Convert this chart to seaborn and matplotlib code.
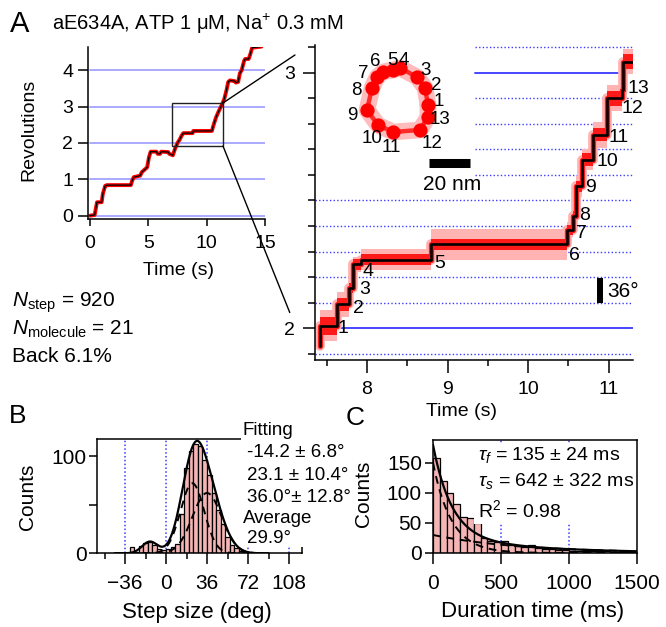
import numpy as np
import pandas as pd
import matplotlib
matplotlib.use("Agg")
import matplotlib.pyplot as plt
from matplotlib.patches import Rectangle, ConnectionPatch
from matplotlib.ticker import MultipleLocator, FixedLocator
from matplotlib.transforms import offset_copy
import seaborn as sns

# ---------------- data ----------------
# Panel A, overview trace (time s, revolutions)
overview_time = [0.0, 0.4, 0.5, 0.6, 1.0, 1.1, 1.3, 1.45, 3.5, 3.6, 3.75, 4.3, 4.45, 4.9, 5.05, 5.2,
                 5.7, 5.8, 6.0, 6.1, 6.7, 6.8, 7.1, 7.3, 7.5, 7.7, 7.85, 8.0, 8.8, 8.85, 10.45,
                 10.55, 10.8, 11.0, 11.3, 11.5, 11.7, 11.85, 12.0, 12.4, 12.5, 12.7, 12.85, 13.0,
                 13.2, 13.3, 13.6, 13.75, 13.9, 14.7]
overview_rev = [0.0, 0.02, 0.2, 0.37, 0.37, 0.6, 0.82, 0.84, 0.84, 0.95, 1.06, 1.1, 1.2, 1.33, 1.6, 1.76,
                1.76, 1.7, 1.7, 1.76, 1.75, 1.7, 1.66, 1.85, 2.0, 2.1, 2.2, 2.27, 2.27, 2.33, 2.33,
                2.45, 2.7, 2.85, 3.05, 3.2, 3.45, 3.68, 3.72, 3.7, 3.66, 3.68, 3.92, 4.0,
                4.25, 4.31, 4.31, 4.45, 4.62, 4.65]

# Panel A, zoomed step trace (start time of each level, level in revolutions)
zoom_step_time = [7.41, 7.415, 7.624, 7.78, 7.83, 7.925, 8.80, 10.49, 10.563, 10.596, 10.667,
                  10.81, 10.98, 11.164, 11.184, 11.30]
zoom_step_rev = [1.93, 2.01, 2.094, 2.159, 2.25, 2.269, 2.328, 2.386, 2.44, 2.555, 2.66,
                 2.757, 2.90, 2.933, 3.043, 3.043]
zoom_pink_halfwidth = [0.03, 0.06, 0.05, 0.04, 0.03, 0.04, 0.06, 0.03, 0.03, 0.04, 0.04,
                       0.05, 0.05, 0.05, 0.05, 0.05]
zoom_red_halfwidth = [0.015, 0.035, 0.025, 0.02, 0.02, 0.02, 0.022, 0.02, 0.02, 0.02, 0.025,
                      0.025, 0.03, 0.03, 0.03, 0.03]

step_labels = [str(i) for i in range(1, 14)]
step_label_time = [7.706, 7.89, 7.975, 8.016, 8.907, 10.58, 10.667, 10.708, 10.77, 10.98, 11.12, 11.29, 11.37]
step_label_rev = [2.007, 2.085, 2.159, 2.23, 2.263, 2.295, 2.38, 2.451, 2.558, 2.66, 2.757, 2.87, 2.946]

# Inset xy trajectory: dwell positions (nm) and their number labels
traj_x_nm = [14.6, 13.2, 9.3, 1.0, -2.4, -7.3, -10.2, -12.7, -15.1, -9.8, -2.4, 10.7, 14.6]
traj_y_nm = [-2.4, 5.9, 11.2, 15.6, 14.6, 13.7, 11.2, 5.9, -4.9, -12.2, -15.6, -14.6, -8.3]
traj_label_x_nm = [19.8, 18.5, 13.3, 3.0, -2.6, -11.2, -16.9, -20.1, -22.5, -12.7, -3.1, 16.4, 20.5]
traj_label_y_nm = [0.3, 8.0, 15.5, 20.0, 20.0, 19.5, 13.8, 5.7, -6.5, -17.9, -22.0, -20.0, -8.4]

# Panel B: step-size histogram
step_size_edges = list(range(-32, 73, 4))
step_size_counts = [6, 1, 8, 11, 12, 9, 4, 3, 4, 6, 10, 40, 88, 105, 112, 110, 96, 80, 62, 45,
                    30, 17, 9, 5, 2, 1]
fit_means = [-14.2, 23.1, 36.0]
fit_sds = [6.8, 10.4, 12.8]
fit_amps = [12, 72, 62]

# Panel C: dwell-duration histogram
duration_edges = list(range(0, 1501, 50))
duration_counts = [158, 120, 100, 82, 60, 58, 50, 25, 20, 18, 20, 13, 12, 10, 14, 8, 7, 6, 5, 5,
                   4, 4, 4, 3, 3, 3, 2, 2, 2, 2]
tau_fast, tau_slow = 135.0, 642.0
amp_fast, amp_slow = 150.0, 30.0

# ---------------- style ----------------
sns.set_theme(style="ticks")
plt.rcParams['font.family'] = ['Liberation Sans', 'DejaVu Sans']
plt.rcParams['mathtext.fontset'] = 'custom'
plt.rcParams['mathtext.rm'] = 'Liberation Sans'
plt.rcParams['mathtext.it'] = 'Liberation Sans:italic'
plt.rcParams['mathtext.bf'] = 'Liberation Sans:bold'
plt.rcParams['axes.linewidth'] = 1.1
for k in ['xtick.major.width', 'ytick.major.width', 'xtick.minor.width', 'ytick.minor.width']:
    plt.rcParams[k] = 1.1
plt.rcParams['axes.edgecolor'] = 'black'
plt.rcParams['xtick.color'] = 'black'
plt.rcParams['ytick.color'] = 'black'
plt.rcParams['xtick.labelcolor'] = 'black'
plt.rcParams['ytick.labelcolor'] = 'black'
plt.rcParams['text.color'] = 'black'
plt.rcParams['axes.labelcolor'] = 'black'

W, H = 666, 627
fig = plt.figure(figsize=(W / 100, H / 100), dpi=100)
FS = 15
FS_LAB = 14
FS_BC = 15


def rect(l, t, r, b):
    return [l / W, 1 - b / H, (r - l) / W, (b - t) / H]


def ftext(x, y, s, **kw):
    kw.setdefault('fontsize', FS)
    kw.setdefault('color', 'black')
    return fig.text(x / W, 1 - y / H, s, **kw)


PINK_BAR = '#f5b5b5'
LIGHT_BLUE = '#a3a3ff'
BLUE = '#4646ff'
DOT_BLUE = '#3b3bff'

# ---------------- Panel A left: overview ----------------
ax1 = fig.add_axes(rect(88.3, 46.6, 265, 219.3))
ax1.set_xlim(-0.146, 15.0)
ax1.set_ylim(-0.1, 4.65)
for r in range(5):
    ax1.plot([0, 15], [r, r], color=LIGHT_BLUE, lw=1.3, zorder=1)
ax1.plot(overview_time, overview_rev, color='red', lw=2.8, zorder=2, solid_joinstyle='round')
ax1.plot(overview_time, overview_rev, color='black', lw=0.9, zorder=3)
ax1.add_patch(Rectangle((7.03, 1.915), 4.37, 1.185, fill=False, ec='#222222', lw=1.0, zorder=4))
ax1.set_xticks([0, 5, 10, 15])
ax1.set_yticks([0, 1, 2, 3, 4])
ax1.tick_params(axis='x', direction='out', length=5, pad=6, labelsize=FS_LAB)
ax1.tick_params(axis='y', direction='out', length=7, pad=4, labelsize=FS_LAB)
for s in ['top', 'right']:
    ax1.spines[s].set_visible(False)
ax1.set_facecolor('none')

# ---------------- Panel A right: zoom ----------------
ax2 = fig.add_axes(rect(314.7, 45, 632.7, 359.8))
ax2.set_xlim(7.35, 11.30)
ax2.set_ylim(1.877, 3.108)
full_dotted = [1.9, 2.1, 2.2, 2.3, 2.4, 2.5]
part_dotted = [2.6, 2.7, 2.8, 2.9, 3.1]
for lv in full_dotted:
    ax2.plot([7.35, 11.3], [lv, lv], color=DOT_BLUE, lw=1.0, ls=(0, (1, 1.6)), zorder=1)
for lv in part_dotted:
    ax2.plot([9.34, 11.3], [lv, lv], color=DOT_BLUE, lw=1.0, ls=(0, (1, 1.6)), zorder=1)
ax2.plot([7.35, 11.3], [2.0, 2.0], color=BLUE, lw=1.4, zorder=1)
ax2.plot([9.34, 11.2], [3.0, 3.0], color=BLUE, lw=1.4, zorder=1)

zt = np.array(zoom_step_time)
zr = np.array(zoom_step_rev)
zp = np.array(zoom_pink_halfwidth)
zd = np.array(zoom_red_halfwidth)
ax2.fill_between(zt, zr - zp, zr + zp, step='post', color='#ffb3b3', lw=0, zorder=2)
ax2.step(zt, zr, where='post', color='#ffb3b3', lw=7, zorder=2)
ax2.fill_between(zt, zr - zd, zr + zd, step='post', color='#ff1a1a', lw=0, zorder=3)
ax2.step(zt, zr, where='post', color='#ff1a1a', lw=3.8, zorder=3)
ax2.step(zt, zr, where='post', color='black', lw=1.9, zorder=4)

off = offset_copy(ax2.transData, fig=fig, x=0, y=-6.8, units='dots')
for s, t, r in zip(step_labels, step_label_time, step_label_rev):
    ax2.text(t, r, s, transform=off, ha='center', va='baseline', fontsize=FS_LAB, color='black', zorder=6)

# 36 degree scale bar
ax2.plot([10.89, 10.89], [2.098, 2.198], color='black', lw=4.3, solid_capstyle='butt', zorder=5)
ax2.text(10.98, 2.148, '36°', transform=off, ha='left', va='baseline', fontsize=FS, color='black')

ax2.yaxis.set_major_locator(FixedLocator([2, 3]))
ax2.yaxis.set_minor_locator(MultipleLocator(0.1))
ax2.xaxis.set_major_locator(FixedLocator([8, 9, 10, 11]))
ax2.xaxis.set_minor_locator(FixedLocator([7.5, 8.5, 9.5, 10.5]))
ax2.tick_params(axis='y', which='major', direction='out', length=9, pad=5, labelsize=FS_LAB)
ax2.tick_params(axis='y', which='minor', direction='out', length=5)
ax2.tick_params(axis='x', which='major', direction='out', length=9, pad=6, labelsize=FS_LAB)
ax2.tick_params(axis='x', which='minor', direction='out', length=4)
for s in ['top', 'right']:
    ax2.spines[s].set_visible(False)
ax2.set_facecolor('none')

# Zoom connectors
for xyA, xyB in [((11.4, 3.1), (7.105, 3.069)), ((11.4, 1.915), (7.04, 2.062))]:
    con = ConnectionPatch(xyA=xyA, coordsA=ax1.transData, xyB=xyB, coordsB=ax2.transData,
                          color='black', lw=1.0)
    fig.add_artist(con)

# Inset: xy trajectory
axi = fig.add_axes(rect(340, 45, 480, 195))
axi.set_xlim(-28.3, 40.0)
axi.set_ylim(-46.3, 26.8)
axi.axis('off')
loop_x = traj_x_nm + traj_x_nm[:1]
loop_y = traj_y_nm + traj_y_nm[:1]
axi.plot(loop_x, loop_y, color='#ffbcbc', lw=12, solid_joinstyle='round', zorder=1)
axi.plot(loop_x, loop_y, color='#ff2a2a', lw=3.2, zorder=2)
axi.scatter(traj_x_nm, traj_y_nm, s=105, color='#ff0000', lw=0, zorder=3)
offi = offset_copy(axi.transData, fig=fig, x=0, y=-6.5, units='dots')
for s, x, y in zip(step_labels, traj_label_x_nm, traj_label_y_nm):
    axi.text(x, y, s, transform=offi, ha='center', va='baseline', fontsize=13.5, color='black', zorder=5)
axi.plot([15.3, 35.1], [-30.7, -30.7], color='black', lw=6.5, solid_capstyle='butt')
axi.text(26.2, -40.5, '20 nm', transform=offi, ha='center', va='baseline', fontsize=FS, color='black')

# ---------------- Panel B ----------------
axB = fig.add_axes(rect(97, 439, 302, 553.3))
b_edges = [float(e) for e in step_size_edges]
b_centers = [(a + b) / 2 for a, b in zip(b_edges[:-1], b_edges[1:])]
b_df = pd.DataFrame({'step': b_centers, 'count': step_size_counts})
for v in [-36, 0, 36, 72, 108]:
    axB.axvline(v, color=DOT_BLUE, lw=1.1, ls=(0, (1, 1.5)), zorder=0.5)
sns.histplot(data=b_df, x='step', weights='count', bins=b_edges, ax=axB,
             color=PINK_BAR, edgecolor='black', linewidth=0.9, alpha=1, zorder=2)
xx = np.linspace(-45, 90, 500)
comps = [a * np.exp(-(xx - m) ** 2 / (2 * s ** 2)) for a, m, s in zip(fit_amps, fit_means, fit_sds)]
axB.plot(xx, comps[1], color='black', lw=1.4, ls=(0, (4, 3)), zorder=3)
axB.plot(xx, comps[2], color='black', lw=1.4, ls=(0, (4, 3)), zorder=3)
axB.plot(xx, comps[0] + comps[1] + comps[2], color='black', lw=1.6, zorder=4)
axB.set_xlim(-60.6, 119.4)
axB.set_ylim(0, 117.5)
axB.xaxis.set_major_locator(FixedLocator([-36, 0, 36, 72, 108]))
axB.xaxis.set_minor_locator(FixedLocator([-54, -18, 18, 54, 90]))
axB.yaxis.set_major_locator(FixedLocator([0, 100]))
axB.yaxis.set_minor_locator(FixedLocator([50]))
axB.tick_params(axis='x', which='major', direction='out', length=8, pad=7, labelsize=FS_BC)
axB.tick_params(axis='x', which='minor', direction='out', length=4.5)
axB.tick_params(axis='y', which='major', direction='out', length=6, pad=1.5, labelsize=FS_BC)
axB.tick_params(axis='y', which='minor', direction='out', length=6)
axB.set_xlabel('')
axB.set_ylabel('')

# ---------------- Panel C ----------------
axC = fig.add_axes(rect(433, 440, 637, 553))
c_edges = [float(e) for e in duration_edges]
c_centers = [(a + b) / 2 for a, b in zip(c_edges[:-1], c_edges[1:])]
c_df = pd.DataFrame({'dur': c_centers, 'count': duration_counts})
for v in [500, 1000]:
    axC.axvline(v, color=DOT_BLUE, lw=1.1, ls=(0, (1, 1.5)), zorder=0.5)
sns.histplot(data=c_df, x='dur', weights='count', bins=c_edges, ax=axC,
             color=PINK_BAR, edgecolor='black', linewidth=0.9, alpha=1, zorder=2)
tt = np.linspace(0, 1500, 600)
fast = amp_fast * np.exp(-tt / tau_fast)
slow = amp_slow * np.exp(-tt / tau_slow)
axC.plot(tt, fast, color='black', lw=1.4, ls=(0, (4, 3)), zorder=3)
axC.plot(tt, slow, color='black', lw=1.4, ls=(0, (4, 3)), zorder=3)
axC.plot(tt, fast + slow, color='black', lw=1.6, zorder=4)
axC.set_xlim(0, 1500)
axC.set_ylim(0, 188)
axC.set_xticks([0, 500, 1000, 1500])
axC.set_yticks([0, 50, 100, 150])
axC.tick_params(axis='x', direction='out', length=8, pad=7, labelsize=FS_BC)
axC.tick_params(axis='y', direction='out', length=6, pad=2, labelsize=FS_BC)
axC.set_xlabel('')
axC.set_ylabel('')

# white label boxes
fig.add_artist(Rectangle((241 / W, 1 - 547 / H), 104 / W, 130 / H, transform=fig.transFigure,
                         facecolor='white', edgecolor='none', zorder=2))
fig.add_artist(Rectangle((474 / W, 1 - 524 / H), 160 / W, 80 / H, transform=fig.transFigure,
                         facecolor='white', edgecolor='none', zorder=2))

# ---------------- texts ----------------
ftext(10, 32, 'A', fontsize=21, va='baseline')
ftext(52, 30, r'aE634A, ATP 1 μM, Na$^{+}$ 0.3 mM', va='baseline', fontsize=14.5)
ftext(12, 307, r'$N_{\mathrm{step}}$ = 920', va='baseline')
ftext(12, 335, r'$N_{\mathrm{molecule}}$ = 21', va='baseline')
ftext(12, 362, 'Back 6.1%', va='baseline')
ftext(29, 130, 'Revolutions', rotation=90, ha='center', va='center', fontsize=FS_LAB)
ftext(178, 275, 'Time (s)', ha='center', va='baseline', fontsize=FS_LAB)
ftext(462, 416, 'Time (s)', ha='center', va='baseline', fontsize=FS_LAB)

ftext(9, 423, 'B', fontsize=19, va='baseline')
ftext(27, 497, 'Counts', rotation=90, ha='center', va='center', fontsize=15)
ftext(197, 618, 'Step size (deg)', ha='center', va='baseline', fontsize=16)
for x, y, s in [(242.7, 435, 'Fitting'), (246.7, 456.7, '-14.2 ± 6.8°'), (247.3, 480, '23.1 ± 10.4°'),
                (247.3, 502, '36.0°± 12.8°'), (242.7, 523, 'Average'), (247.3, 543, '29.9°')]:
    ftext(x, y, s, va='baseline', zorder=5, fontsize=13.5)

ftext(346, 425, 'C', fontsize=19, va='baseline')
ftext(363, 494, 'Counts', rotation=90, ha='center', va='center', fontsize=15)
ftext(533, 617, 'Duration time (ms)', ha='center', va='baseline', fontsize=16)
ftext(478, 460, r'$\tau_f$ = 135 ± 24 ms', va='baseline', zorder=5, fontsize=14)
ftext(478, 486, r'$\tau_s$ = 642 ± 322 ms', va='baseline', zorder=5, fontsize=14)
ftext(478, 516.7, r'R$^2$ = 0.98', va='baseline', zorder=5, fontsize=14)

fig.savefig('out.png', dpi=100)
